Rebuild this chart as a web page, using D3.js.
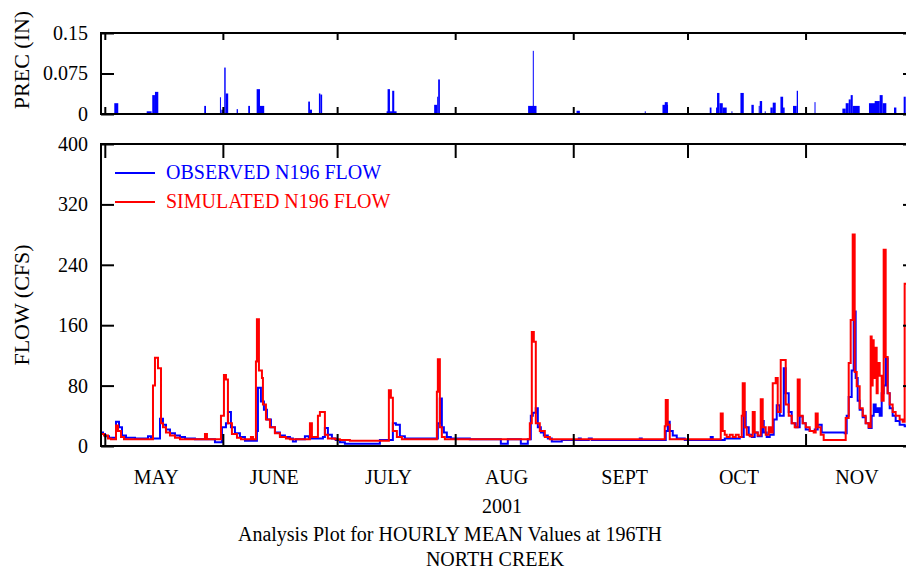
<!DOCTYPE html>
<html>
<head>
<meta charset="utf-8">
<script src="https://cdn.jsdelivr.net/npm/d3@7"></script>
<style>
  body { margin: 0; background: #fff; }
  svg { display: block; }
  text { font-family: "Liberation Serif", "Times New Roman", serif; fill: #000; }
</style>
</head>
<body>
<div class="chart"></div>
<script>
// record starts Apr 30 2001, times are days after that
var startDate = new Date(Date.UTC(2001, 3, 30));
var endDate = new Date(Date.UTC(2001, 10, 30));

var obsDay = [0, 0.52, 1.05, 2.10, 3.67, 3.94, 4.72, 5.51, 6.56, 8.92,
  12.07, 12.34, 13.12, 15.49, 16.27, 17.06, 18.11, 19.42, 20.73, 22.05,
  24.67, 29.92, 31.76, 32.81, 33.33, 34.12, 35.17, 36.48, 37.80, 40.94,
  41.21, 41.99, 42.78, 43.57, 44.62, 45.67, 46.98, 48.29, 49.61, 50.39,
  51.18, 53.54, 54.59, 55.38, 58.27, 58.79, 59.58, 60.63, 61.68, 62.73,
  64.04, 73.23, 76.64, 77.43, 78.48, 79.79, 88.45, 88.98, 89.50, 90.03,
  90.81, 91.86, 96.85, 104.99, 106.82, 110.24, 112.07, 112.86, 113.39, 114.17,
  114.70, 115.49, 116.27, 117.32, 118.37, 120.99, 125.46, 125.98, 128.08, 128.87,
  141.47, 141.99, 148.29, 148.82, 149.34, 150.13, 151.18, 153.28, 160.10, 160.63,
  163.78, 167.72, 168.77, 169.29, 170.08, 170.87, 171.65, 172.44, 173.49, 174.02,
  174.80, 175.59, 176.64, 177.43, 178.22, 179.27, 179.79, 180.58, 181.36, 182.41,
  183.46, 184.25, 185.04, 186.09, 187.40, 188.19, 189.24, 195.28, 195.80, 196.33,
  197.11, 197.64, 198.16, 198.69, 199.21, 200.00, 200.79, 201.57, 202.36, 202.89,
  203.41, 203.94, 204.46, 204.99, 205.51, 206.04, 206.56, 207.09, 207.87, 208.66,
  209.71, 211.02, 214];
var obsFlow = [18, 16, 13, 11, 11, 32, 25, 14, 11, 10,
  10, 13, 10, 36, 28, 22, 17, 14, 12, 10,
  9, 5, 25, 30, 45, 25, 17, 12, 7, 20,
  77, 59, 48, 35, 25, 18, 14, 12, 10, 6,
  9, 13, 11, 10, 12, 24, 15, 10, 8, 5,
  3, 8, 30, 28, 13, 10, 30, 63, 25, 18,
  12, 10, 9, 3, 9, 3, 9, 40, 44, 50,
  25, 18, 14, 10, 6, 8, 10, 8, 10, 8,
  10, 8, 20, 32, 20, 14, 10, 8, 12, 8,
  10, 12, 45, 25, 15, 12, 18, 13, 33, 18,
  12, 15, 35, 54, 40, 103, 70, 45, 30, 25,
  39, 30, 22, 20, 22, 28, 18, 17, 40, 65,
  100, 178, 90, 60, 48, 38, 30, 24, 40, 55,
  45, 50, 40, 70, 80, 116, 70, 50, 40, 33,
  28, 26, 26];

var simDay = [0, 0.79, 1.84, 2.62, 3.94, 4.46, 5.25, 6.04, 13.65, 14.17,
  14.96, 15.75, 16.27, 17.06, 18.11, 19.42, 20.73, 27.30, 27.82, 31.50,
  32.28, 32.81, 33.33, 34.38, 35.70, 36.75, 39.37, 39.90, 40.68, 40.94,
  41.47, 42.26, 42.52, 43.31, 44.36, 45.67, 46.98, 48.56, 49.61, 54.86,
  55.38, 56.96, 57.48, 58.79, 59.58, 61.42, 62.73, 65.35, 75.59, 76.12,
  76.64, 77.69, 79.00, 88.19, 88.45, 88.98, 89.50, 90.29, 112.60, 113.12,
  113.65, 114.17, 115.22, 116.54, 117.85, 148.03, 148.29, 148.82, 149.34, 162.73,
  163.25, 163.78, 164.30, 165.09, 165.88, 166.67, 167.45, 168.24, 168.50, 169.03,
  169.55, 170.34, 171.13, 171.65, 172.44, 173.23, 173.75, 174.54, 175.33, 175.85,
  176.38, 177.17, 177.69, 178.48, 179.79, 180.58, 181.36, 182.15, 182.94, 183.46,
  184.25, 185.04, 186.09, 187.14, 187.66, 188.19, 188.98, 189.76, 195.54, 196.33,
  196.85, 197.38, 197.90, 198.43, 199.21, 200.00, 200.79, 201.57, 202.10, 202.36,
  202.62, 202.89, 203.15, 203.67, 203.94, 204.46, 204.99, 205.51, 206.04, 206.56,
  207.09, 207.87, 208.66, 209.71, 210.50, 211.02, 214];
var simFlow = [16, 14, 10, 9, 27, 20, 12, 9, 80, 117,
  103, 30, 25, 18, 14, 11, 9, 16, 9, 40,
  94, 88, 30, 16, 11, 9, 12, 9, 112, 168,
  100, 90, 55, 35, 25, 17, 12, 10, 9, 30,
  12, 40, 45, 15, 10, 9, 8, 7, 74, 64,
  20, 12, 9, 72, 115, 25, 12, 9, 30, 151,
  138, 30, 20, 12, 9, 26, 61, 28, 9, 43,
  20, 15, 12, 15, 12, 15, 12, 40, 83, 25,
  15, 13, 45, 18, 14, 62, 25, 15, 25, 18,
  83, 90, 45, 114, 55, 40, 30, 25, 88, 40,
  30, 25, 20, 18, 43, 25, 15, 8, 37, 110,
  167, 280, 98, 79, 50, 40, 30, 25, 145, 80,
  140, 90, 130, 70, 110, 93, 60, 260, 118, 70,
  55, 45, 40, 35, 32, 215, 215];

// precipitation: start (days), duration (hours), depth (in)
var precDay = [3.49, 12.0, 13.46, 14.17, 27.11, 31.23, 31.6, 32.36, 32.73, 35.62,
  38.66, 40.87, 41.73, 54.41, 54.86, 57.22, 57.61, 74.99, 75.25, 76.46,
  87.48, 88.27, 88.53, 112.15, 113.38, 124.86, 142.78, 147.43, 148.03, 159.84,
  161.5, 161.76, 162.39, 163.25, 165.54, 167.90, 170.78, 172.70, 172.97, 174.28,
  175.77, 176.38, 178.40, 179.09, 181.71, 182.68, 187.35, 194.67, 195.54, 196.33,
  196.85, 197.38, 201.65, 203.15, 204.46, 205.25, 208.22, 210.76];
var precHours = [25, 31, 17, 21, 11, 6, 15, 9, 16, 8,
  11, 21, 27, 11, 13, 9, 11, 63, 15, 13,
  19, 6, 11, 53, 6, 21, 6, 35, 19, 11,
  10, 15, 21, 25, 6, 21, 15, 6, 15, 6,
  15, 19, 17, 10, 23, 8, 6, 21, 19, 13,
  13, 44, 42, 32, 19, 23, 15, 13];
var precIn = [0.02, 0.005, 0.035, 0.041, 0.015, 0.031, 0.008, 0.086, 0.038, 0.009,
  0.015, 0.046, 0.015, 0.023, 0.008, 0.038, 0.036, 0.005, 0.046, 0.043,
  0.017, 0.032, 0.064, 0.015, 0.117, 0.006, 0.005, 0.017, 0.022, 0.012,
  0.012, 0.039, 0.02, 0.012, 0.005, 0.039, 0.017, 0.015, 0.024, 0.005,
  0.012, 0.021, 0.032, 0.012, 0.015, 0.043, 0.022, 0.01, 0.02, 0.027,
  0.035, 0.015, 0.02, 0.024, 0.035, 0.02, 0.012, 0.032];

var months = ['MAY', 'JUNE', 'JULY', 'AUG', 'SEPT', 'OCT', 'NOV'];
var precTicks = [0, 0.075, 0.15];
var flowTicks = [0, 80, 160, 240, 320, 400];

function toDate(d) { return new Date(startDate.getTime() + d * 864e5); }

var obs = obsDay.map(function(d, i) { return { date: toDate(d), v: obsFlow[i] }; });
var sim = simDay.map(function(d, i) { return { date: toDate(d), v: simFlow[i] }; });
var prec = precDay.map(function(d, i) {
  return { start: toDate(d), end: toDate(d + precHours[i] / 24), v: precIn[i] };
});

var W = 906, H = 571;
var left = 101, right = 916;
var pTop = 33, pBot = 114;
var fTop = 144, fBot = 446;

var svg = d3.select('.chart').append('svg')
  .attr('width', W)
  .attr('height', H);

var x = d3.scaleUtc().domain([startDate, endDate]).range([left, right]);
var yP = d3.scaleLinear().domain([0, 0.15]).range([pBot, pTop]);
var yF = d3.scaleLinear().domain([0, 400]).range([fBot, fTop]);

var monthStarts = d3.utcMonth.range(new Date(Date.UTC(2001, 4, 1)), endDate);

svg.append('clipPath').attr('id', 'clipP')
  .append('rect').attr('x', left).attr('y', pTop).attr('width', right - left).attr('height', pBot - pTop);
svg.append('clipPath').attr('id', 'clipF')
  .append('rect').attr('x', left).attr('y', fTop).attr('width', right - left).attr('height', fBot - fTop);

// precipitation bars
svg.append('g')
    .attr('clip-path', 'url(#clipP)')
  .selectAll('rect')
  .data(prec)
  .enter().append('rect')
    .attr('x', function(d) { return x(d.start); })
    .attr('width', function(d) { return Math.max(1, x(d.end) - x(d.start)); })
    .attr('y', function(d) { return yP(d.v); })
    .attr('height', function(d) { return yP(0) - yP(d.v); })
    .attr('fill', '#0000ff');

// flow lines
var line = d3.line()
  .x(function(d) { return x(d.date); })
  .y(function(d) { return yF(d.v); })
  .curve(d3.curveStepAfter);

var flows = svg.append('g').attr('clip-path', 'url(#clipF)');
flows.append('path').datum(obs)
  .attr('d', line)
  .attr('fill', 'none')
  .attr('stroke', '#0000ff')
  .attr('stroke-width', 2);
flows.append('path').datum(sim)
  .attr('d', line)
  .attr('fill', 'none')
  .attr('stroke', '#ff0000')
  .attr('stroke-width', 2);

// axes
function styleAxis(g) {
  g.select('.domain').remove();
  g.selectAll('.tick line').attr('stroke', '#000').attr('stroke-width', 2);
  g.selectAll('.tick text').attr('font-size', 20).attr('fill', '#000')
    .style('font-family', '"Liberation Serif", serif');
}

svg.append('g')
  .attr('transform', 'translate(' + left + ',0)')
  .call(d3.axisLeft(yP).tickValues(precTicks).tickSize(-13).tickPadding(13)
    .tickFormat(function(d) { return String(d); }))
  .call(styleAxis);
svg.append('g')
  .attr('transform', 'translate(' + right + ',0)')
  .call(d3.axisRight(yP).tickValues(precTicks).tickSize(-13).tickFormat(''))
  .call(styleAxis);
svg.append('g')
  .attr('transform', 'translate(0,' + pTop + ')')
  .call(d3.axisTop(x).tickValues(monthStarts).tickSize(-7).tickFormat(''))
  .call(styleAxis);
svg.append('g')
  .attr('transform', 'translate(0,' + pBot + ')')
  .call(d3.axisBottom(x).tickValues(monthStarts).tickSize(-7).tickFormat(''))
  .call(styleAxis);

svg.append('g')
  .attr('transform', 'translate(' + left + ',0)')
  .call(d3.axisLeft(yF).tickValues(flowTicks).tickSize(-13).tickPadding(13))
  .call(styleAxis);
svg.append('g')
  .attr('transform', 'translate(' + right + ',0)')
  .call(d3.axisRight(yF).tickValues(flowTicks).tickSize(-13).tickFormat(''))
  .call(styleAxis);
svg.append('g')
  .attr('transform', 'translate(0,' + fTop + ')')
  .call(d3.axisTop(x).tickValues(monthStarts).tickSize(-14).tickFormat(''))
  .call(styleAxis);
svg.append('g')
  .attr('transform', 'translate(0,' + fBot + ')')
  .call(d3.axisBottom(x).tickValues(monthStarts).tickSize(-12).tickFormat(''))
  .call(styleAxis);

// frames
[[pTop, pBot], [fTop, fBot]].forEach(function(p) {
  svg.append('rect')
    .attr('x', left).attr('y', p[0])
    .attr('width', right - left).attr('height', p[1] - p[0])
    .attr('fill', 'none').attr('stroke', '#000').attr('stroke-width', 2);
});

// month labels, centred mid month
svg.append('g').selectAll('text')
  .data(monthStarts)
  .enter().append('text')
    .attr('x', function(d) { return x(d3.utcHour.offset(d, 324)); })
    .attr('y', 484)
    .attr('text-anchor', 'middle')
    .attr('font-size', 20)
    .text(function(d, i) { return months[i]; });

// axis titles
svg.append('text')
  .attr('transform', 'translate(29,60) rotate(-90)')
  .attr('text-anchor', 'middle')
  .attr('font-size', 22)
  .text('PREC (IN)');
svg.append('text')
  .attr('transform', 'translate(29,305) rotate(-90)')
  .attr('text-anchor', 'middle')
  .attr('font-size', 22)
  .text('FLOW (CFS)');

svg.append('text').attr('x', 502).attr('y', 513)
  .attr('text-anchor', 'middle').attr('font-size', 20).text('2001');
svg.append('text').attr('x', 450).attr('y', 541)
  .attr('text-anchor', 'middle').attr('font-size', 20)
  .text('Analysis Plot for HOURLY MEAN Values at 196TH');
svg.append('text').attr('x', 495).attr('y', 566)
  .attr('text-anchor', 'middle').attr('font-size', 20).text('NORTH CREEK');

// legend
var legend = [
  { name: 'OBSERVED N196 FLOW', color: '#0000ff' },
  { name: 'SIMULATED N196 FLOW', color: '#ff0000' }
];
var lg = svg.append('g').selectAll('g')
  .data(legend)
  .enter().append('g')
    .attr('transform', function(d, i) { return 'translate(115,' + (173 + i * 29) + ')'; });
lg.append('line')
  .attr('x1', 0).attr('x2', 40)
  .attr('stroke', function(d) { return d.color; })
  .attr('stroke-width', 2);
lg.append('text')
  .attr('x', 51).attr('y', 6)
  .attr('font-size', 20)
  .style('fill', function(d) { return d.color; })
  .text(function(d) { return d.name; });
</script>
</body>
</html>
